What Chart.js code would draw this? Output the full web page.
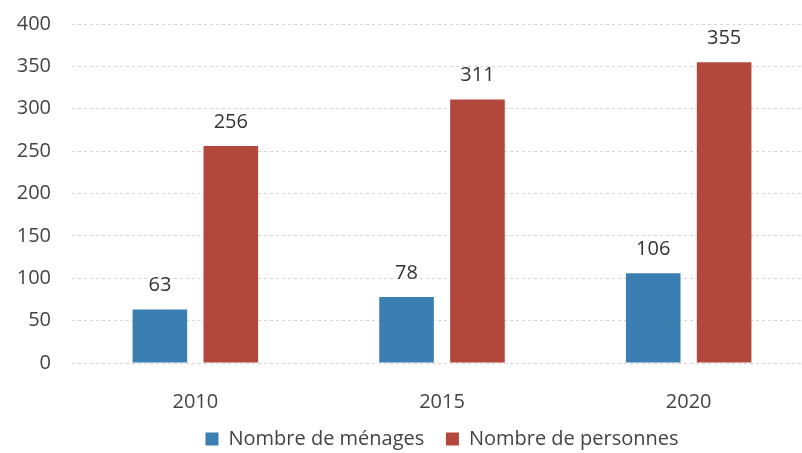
<!DOCTYPE html>
<html>
<head>
<meta charset="utf-8">
<script src="https://cdn.jsdelivr.net/npm/chart.js@4"></script>
<style>
  html, body { margin: 0; padding: 0; background: #fff; overflow: hidden; }
  #wrap { width: 812px; height: 459px; }
</style>
</head>
<body>
<div id="wrap"><canvas id="bar-chart"></canvas></div>
<script>
annees = ['2010', '2015', '2020']
menages = [63, 78, 106]
personnes = [256, 311, 355]

// petites etiquettes au-dessus des barres
etiquettes = {
    id: 'etiquettes',
    afterDatasetsDraw(chart) {
        var ctx = chart.ctx
        ctx.save()
        ctx.font = '20px "Open Sans"'
        ctx.fillStyle = '#333'
        ctx.textAlign = 'center'
        ctx.textBaseline = 'bottom'
        chart.data.datasets.forEach(function (ds, i) {
            chart.getDatasetMeta(i).data.forEach(function (bar, j) {
                ctx.fillText(ds.data[j], bar.x, bar.y - 14)
            })
        })
        ctx.restore()
    }
}

var police = { family: 'Open Sans', size: 20 }

new Chart(document.getElementById('bar-chart'), {
    type: 'bar',
    data: {
        labels: annees,
        datasets: [{
            label: 'Nombre de ménages',
            data: menages,
            backgroundColor: '#3b7fb2',
            barPercentage: 0.77,
            categoryPercentage: 0.575
        }, {
            label: 'Nombre de personnes',
            data: personnes,
            backgroundColor: '#b2483b',
            barPercentage: 0.77,
            categoryPercentage: 0.575
        }]
    },
    options: {
        responsive: true,
        maintainAspectRatio: false,
        animation: false,
        layout: { padding: { top: 24, right: 0, bottom: 0 } },
        plugins: {
            legend: {
                position: 'bottom',
                fullSize: false,
                labels: {
                    boxWidth: 13,
                    boxHeight: 13,
                    padding: 6,
                    color: '#444',
                    font: police,
                    generateLabels: function (chart) {
                        var items = Chart.defaults.plugins.legend.labels.generateLabels(chart)
                        // un peu plus d'espace entre les deux entrees
                        items[0].text = items[0].text + '   '
                        return items
                    }
                }
            },
            tooltip: { enabled: false }
        },
        scales: {
            x: {
                grid: { display: false },
                border: { display: false },
                ticks: { color: '#444', font: police, padding: 19 },
                afterFit: function (axis) { axis.height = 60 }
            },
            y: {
                min: 0,
                max: 400,
                ticks: { stepSize: 50, color: '#444', font: police, padding: 21 },
                grid: { color: '#d4d4d4', drawTicks: false },
                border: { display: false, dash: [3, 3] },
                afterFit: function (axis) {
                    axis.width = 72
                    axis.paddingTop = 0
                    axis.paddingBottom = 0
                }
            }
        }
    },
    plugins: [etiquettes]
})
</script>
</body>
</html>
